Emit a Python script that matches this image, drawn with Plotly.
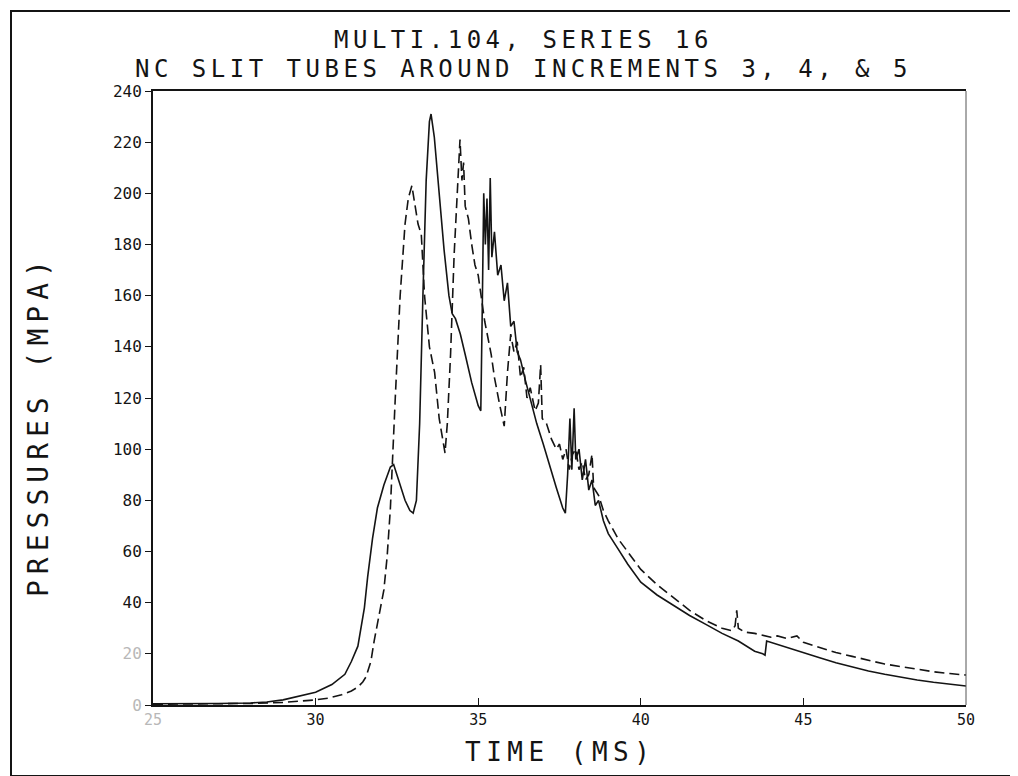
import plotly.graph_objects as go

# ---- data ----
solid_time = [25.0, 26.0, 27.0, 28.0, 28.5, 29.0, 29.5, 30.0, 30.5, 30.9, 31.1, 31.3, 31.5, 31.6,
              31.75, 31.9, 32.1, 32.3, 32.4, 32.55, 32.75, 32.9, 33.0, 33.1, 33.2, 33.3, 33.4, 33.5,
              33.55, 33.65, 33.8, 33.95, 34.1, 34.2, 34.3, 34.45, 34.6, 34.8, 35.0, 35.08, 35.12,
              35.17, 35.22, 35.27, 35.32, 35.37, 35.42, 35.5, 35.6, 35.7, 35.8, 35.9, 36.0, 36.1,
              36.2, 36.3, 36.45, 36.6, 36.8, 37.0, 37.2, 37.4, 37.6, 37.68, 37.75, 37.82, 37.88,
              37.95, 38.0, 38.1, 38.2, 38.3, 38.4, 38.5, 38.6, 38.7, 38.85, 39.0, 39.3, 39.6, 40.0,
              40.5, 41.0, 41.5, 42.0, 42.5, 43.0, 43.5, 43.75, 43.82, 43.87, 44.0, 44.5, 45.0, 45.5,
              46.0, 46.5, 47.0, 47.5, 48.0, 48.5, 49.0, 49.5, 50.0]
solid_pressure = [0.5, 0.5, 0.6, 0.8, 1.2, 2.0, 3.5, 5, 8, 12, 17, 23, 38, 50,
                  65, 77, 86, 93, 94, 88, 80, 76, 75, 80, 110, 160, 205, 228,
                  231, 222, 200, 178, 160, 153, 151, 145, 137, 126, 117, 115, 150,
                  200, 180, 198, 170, 206, 175, 185, 168, 172, 158, 165, 148, 150,
                  138, 135, 127, 120, 110, 102, 93, 85, 77, 75, 90, 112, 92,
                  116, 96, 100, 88, 96, 84, 88, 78, 80, 72, 67, 61, 55, 48,
                  43, 39, 35, 31.5, 28, 25, 21, 20, 19.5, 25, 24.5, 22.5, 20.5, 18.5,
                  16.5, 14.8, 13.3, 12, 10.8, 9.8, 8.9, 8.1, 7.4]

dashed_time = [25.0, 26.0, 27.0, 28.0, 29.0, 29.5, 30.0, 30.4, 30.8, 31.1, 31.3, 31.45, 31.55,
               31.7, 31.8, 31.95, 32.1, 32.2, 32.3, 32.45, 32.6, 32.75, 32.85, 32.96, 33.05,
               33.15, 33.25, 33.35, 33.5, 33.66, 33.8, 33.98, 34.05, 34.15, 34.26, 34.37, 34.44,
               34.5, 34.55, 34.6, 34.7, 34.8, 34.9, 35.0, 35.1, 35.2, 35.4, 35.5, 35.65, 35.8,
               35.9, 36.0, 36.1, 36.2, 36.3, 36.4, 36.5, 36.6, 36.75, 36.85, 36.92, 36.97, 37.1,
               37.25, 37.4, 37.5, 37.6, 37.7, 37.8, 37.9, 38.0, 38.1, 38.2, 38.3, 38.4, 38.5,
               38.55, 38.7, 38.85, 39.0, 39.3, 39.6, 40.0, 40.5, 41.0, 41.5, 42.0, 42.5, 42.8,
               42.9, 42.95, 43.0, 43.2, 43.5, 44.0, 44.2, 44.5, 44.8, 45.0, 45.5, 46.0, 46.5,
               47.0, 47.5, 48.0, 48.5, 49.0, 49.5, 50.0]
dashed_pressure = [0.3, 0.4, 0.5, 0.6, 1.0, 1.5, 2.0, 2.7, 4, 5.5, 7, 9, 11,
                   17, 25, 35, 45, 58, 77, 120, 160, 188, 198, 203, 195,
                   188, 184, 160, 140, 130, 112, 98.5, 110, 137, 176, 202, 221,
                   205, 212, 195, 190, 180, 172, 168, 158, 150, 137, 128, 118, 109,
                   130, 145, 138, 142, 128, 132, 120, 124, 115, 118, 133, 112, 110,
                   104, 100, 102, 96, 100, 92, 98, 100, 92, 95, 88, 90, 98,
                   85, 82, 76, 72, 65, 60, 53, 47, 42, 37, 33, 30, 29,
                   31, 37, 30, 28.5, 28, 26.5, 27, 26, 27, 24.5, 22.5, 20.5, 19,
                   17.5, 16, 15, 14, 13, 12.3, 11.7]

x_tick_values = [25, 30, 35, 40, 45, 50]
x_tick_labels = ["25", "30", "35", "40", "45", "50"]
y_tick_values = [0, 20, 40, 60, 80, 100, 120, 140, 160, 180, 200, 220, 240]
y_tick_labels = ["0", "20", "40", "60", "80", "100", "120", "140", "160", "180", "200", "220", "240"]
faint_labels = {"0", "20", "25"}

title_line1 = "MULTI.104, SERIES 16"
title_line2 = "NC SLIT TUBES AROUND INCREMENTS 3, 4, & 5"
x_title = "TIME (MS)"
y_title = "PRESSURES (MPA)"

FONT = "DejaVu Sans Mono"
INK = "#141414"


def fmt_tick(t):
    if t in faint_labels:
        return f"<span style='color:#b8b8b8'>{t}</span>"
    return t


def spaced(t, px):
    return f"<span style='letter-spacing:{px}px'>{t}</span>"


W, H = 1018, 776
L, R, T, B = 145, 60, 83, 79
pw, ph = W - L - R, H - T - B


def px_x(px):
    return (px - L) / pw


def px_y(py):
    return (H - B - py) / ph


fig = go.Figure()
fig.add_trace(go.Scatter(x=solid_time, y=solid_pressure, mode="lines",
                         line=dict(color=INK, width=1.6), showlegend=False))
fig.add_trace(go.Scatter(x=dashed_time, y=dashed_pressure, mode="lines",
                         line=dict(color=INK, width=1.6, dash="10px,5px"), showlegend=False))

fig.update_layout(
    width=W, height=H,
    margin=dict(l=L, r=R, t=T, b=B, pad=0),
    paper_bgcolor="white", plot_bgcolor="white",
    font=dict(family=FONT, color=INK),
    showlegend=False,
)
fig.update_xaxes(range=[25, 50], tickvals=x_tick_values,
                 ticktext=[fmt_tick(t) for t in x_tick_labels],
                 showgrid=False, zeroline=False, showline=True, linecolor=INK, linewidth=2,
                 mirror=True, ticks="inside", ticklen=7, tickwidth=1.2, tickcolor=INK,
                 tickfont=dict(family=FONT, size=15, color=INK))
fig.update_yaxes(range=[0, 240], tickvals=y_tick_values,
                 ticktext=[fmt_tick(t) for t in y_tick_labels],
                 showgrid=False, zeroline=False, showline=True, linecolor=INK, linewidth=2,
                 mirror=False, ticks="outside", ticklen=6, tickwidth=1.2, tickcolor=INK,
                 tickfont=dict(family=FONT, size=16, color=INK))

# right border of plot (thinner)
fig.add_shape(type="line", xref="paper", yref="paper", x0=1, x1=1, y0=0, y1=1,
              line=dict(color="#555", width=1))
# outer frame around the whole page
fig.add_shape(type="rect", xref="paper", yref="paper",
              x0=px_x(3), x1=px_x(1013), y0=px_y(768), y1=px_y(3),
              line=dict(color=INK, width=2))

fig.add_annotation(text=spaced(title_line1, 4.5), xref="paper", yref="paper",
                   x=px_x(515), y=px_y(32), showarrow=False,
                   font=dict(family=FONT, size=24, color=INK), xanchor="center", yanchor="middle")
fig.add_annotation(text=spaced(title_line2, 4.5), xref="paper", yref="paper",
                   x=px_x(515), y=px_y(61), showarrow=False,
                   font=dict(family=FONT, size=24, color=INK), xanchor="center", yanchor="middle")
fig.add_annotation(text=spaced(x_title, 5.5), xref="paper", yref="paper",
                   x=px_x(552), y=px_y(744), showarrow=False,
                   font=dict(family=FONT, size=26, color=INK), xanchor="center", yanchor="middle")
fig.add_annotation(text=spaced(y_title, 6), xref="paper", yref="paper",
                   x=px_x(30), y=px_y(418), showarrow=False, textangle=-90,
                   font=dict(family=FONT, size=28, color=INK), xanchor="center", yanchor="middle")

fig.write_html("out.html")
